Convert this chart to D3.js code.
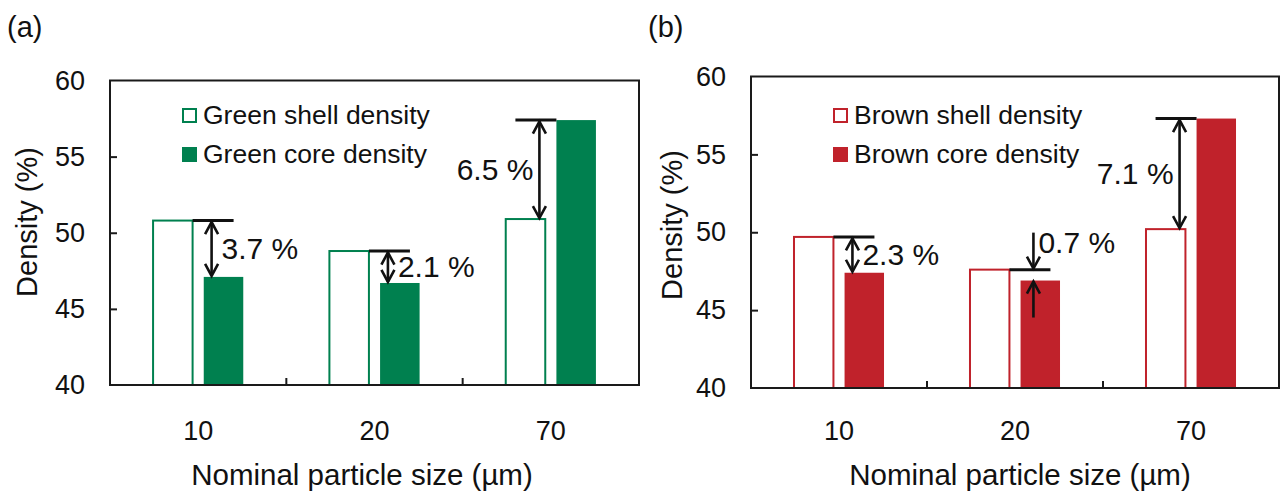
<!DOCTYPE html>
<html>
<head>
<meta charset="utf-8">
<script src="https://cdn.jsdelivr.net/npm/d3@7"></script>
<style>
  html, body { margin: 0; padding: 0; background: #fff; }
  svg { display: block; font-family: "Liberation Sans", Arial, Helvetica, sans-serif; }
</style>
</head>
<body>
<svg id="fig" width="1280" height="493"></svg>
<script>
// Nominal particle sizes (µm)
const categories = ["10", "20", "70"];
// Green (unsintered) granules: shell vs core density (%)
const greenShell = [50.8, 48.8, 50.9];
const greenCore  = [47.1, 46.7, 57.4];
// Brown granules: shell vs core density (%)
const brownShell = [49.7, 47.6, 50.2];
const brownCore  = [47.4, 46.9, 57.3];
const yTicks = [40, 45, 50, 55, 60];
const xTitle = "Nominal particle size (µm)";
const yTitle = "Density (%)";

const panels = [
  { tag: "(a)", shell: greenShell, core: greenCore, color: "#00804f",
    names: ["Green shell density", "Green core density"],
    box: { left: 110, right: 639, top: 80.5, bottom: 385 },
    tagX: 7, legendDx: 72, titleX: 362, yTitleX: 37, yTitleY: 222 },
  { tag: "(b)", shell: brownShell, core: brownCore, color: "#c0222b",
    names: ["Brown shell density", "Brown core density"],
    box: { left: 751, right: 1279, top: 76.5, bottom: 388 },
    tagX: 648, legendDx: 82, titleX: 1020, yTitleX: 682, yTitleY: 225 }
];

const svg = d3.select("#fig");
const ink = "#111";

function arrowHead(g, x, yTip, dir) {
  // dir = -1: head points up, +1: head points down
  const len = 12, half = 6.5;
  g.append("path")
    .attr("d", `M${x - half},${yTip - dir * len} L${x},${yTip} L${x + half},${yTip - dir * len}`)
    .attr("fill", "none").attr("stroke", ink).attr("stroke-width", 2.6)
    .attr("stroke-linejoin", "miter");
}

panels.forEach(p => {
  const g = svg.append("g");
  const b = p.box;
  const y = d3.scaleLinear().domain([40, 60]).range([b.bottom, b.top]);
  const x = d3.scaleBand().domain(categories).range([b.left, b.right]);
  const sub = d3.scaleBand().domain(["shell", "core"]).range([0, x.bandwidth()])
    .paddingInner(0.22).paddingOuter(0.85);

  // bars
  categories.forEach((c, i) => {
    const sv = p.shell[i], cv = p.core[i];
    g.append("rect")
      .attr("x", x(c) + sub("shell")).attr("y", y(sv))
      .attr("width", sub.bandwidth()).attr("height", y(40) - y(sv))
      .attr("fill", "#fff").attr("stroke", p.color).attr("stroke-width", 2);
    g.append("rect")
      .attr("x", x(c) + sub("core")).attr("y", y(cv))
      .attr("width", sub.bandwidth()).attr("height", y(40) - y(cv))
      .attr("fill", p.color);
  });

  // frame
  g.append("rect")
    .attr("x", b.left).attr("y", b.top)
    .attr("width", b.right - b.left).attr("height", b.bottom - b.top)
    .attr("fill", "none").attr("stroke", "#1a1a1a").attr("stroke-width", 2);

  // y tick labels
  const yAxis = g.append("g").attr("transform", `translate(${b.left},0)`)
    .call(d3.axisLeft(y).tickValues(yTicks).tickSize(0).tickPadding(25));
  yAxis.select(".domain").remove();
  yAxis.selectAll("text").attr("font-size", 27).attr("fill", ink)
    .attr("font-family", "Liberation Sans, Arial, sans-serif");

  // inward y ticks
  const yIn = g.append("g").attr("transform", `translate(${b.left},0)`)
    .call(d3.axisRight(y).tickValues(yTicks.slice(1, -1)).tickSize(7).tickFormat(""));
  yIn.select(".domain").remove();
  yIn.selectAll("line").attr("stroke", "#1a1a1a").attr("stroke-width", 2);

  // x tick labels
  const fsX = 27;
  const xAxis = g.append("g").attr("transform", `translate(0,${b.bottom})`)
    .call(d3.axisBottom(x).tickSize(0).tickPadding(440 - b.bottom - 0.71 * fsX));
  xAxis.select(".domain").remove();
  xAxis.selectAll("text").attr("font-size", fsX).attr("fill", ink)
    .attr("font-family", "Liberation Sans, Arial, sans-serif");

  // inward x ticks at group boundaries
  categories.slice(1).forEach(c => {
    g.append("line")
      .attr("x1", x(c)).attr("x2", x(c))
      .attr("y1", b.bottom).attr("y2", b.bottom - 7)
      .attr("stroke", "#1a1a1a").attr("stroke-width", 2);
  });

  // axis titles
  g.append("text").attr("x", p.titleX).attr("y", 485)
    .attr("text-anchor", "middle").attr("font-size", 29.5)
    .attr("fill", ink).text(xTitle);
  g.append("text")
    .attr("transform", `translate(${p.yTitleX},${p.yTitleY}) rotate(-90)`)
    .attr("text-anchor", "middle").attr("font-size", 29)
    .attr("fill", ink).text(yTitle);

  // panel tag
  g.append("text").attr("x", p.tagX).attr("y", 37)
    .attr("font-size", 29).attr("fill", ink).text(p.tag);

  // legend
  const lx = b.left + p.legendDx;
  const rows = [{ y: 108, filled: false }, { y: 147, filled: true }];
  rows.forEach((r, i) => {
    g.append("rect")
      .attr("x", lx + (r.filled ? 0 : 1)).attr("y", r.y + (r.filled ? 0 : 1))
      .attr("width", r.filled ? 15 : 13).attr("height", r.filled ? 15 : 13)
      .attr("fill", r.filled ? p.color : "#fff")
      .attr("stroke", r.filled ? "none" : p.color).attr("stroke-width", 2);
    g.append("text").attr("x", lx + 21).attr("y", r.y + 15.5)
      .attr("font-size", 26.5).attr("fill", ink)
      .text(p.names[i]);
  });

  // shell/core difference annotations
  categories.forEach((c, i) => {
    const sv = p.shell[i], cv = p.core[i];
    const label = Math.abs(sv - cv).toFixed(1) + " %";
    const ys = y(sv), yc = y(cv);
    const shellRight = x(c) + sub("shell") + sub.bandwidth();
    const coreLeft = x(c) + sub("core");
    const a = g.append("g");
    const fsA = 30;
    if (cv > sv) {
      // core above shell: reference bar at core top, reaching left over the shell bar
      const x1 = coreLeft, x0 = x1 - 41, ax = x1 - 17;
      a.append("line").attr("x1", x0).attr("x2", x1).attr("y1", yc).attr("y2", yc)
        .attr("stroke", ink).attr("stroke-width", 3);
      a.append("line").attr("x1", ax).attr("x2", ax).attr("y1", yc + 1).attr("y2", ys - 1)
        .attr("stroke", ink).attr("stroke-width", 2.6);
      arrowHead(a, ax, yc + 1.5, -1);
      arrowHead(a, ax, ys - 1, 1);
      a.append("text").attr("x", ax - 6).attr("y", (yc + ys) / 2 + 10)
        .attr("text-anchor", "end").attr("font-size", fsA)
        .attr("fill", ink).text(label);
    } else if (sv - cv >= 1) {
      // shell above core: reference bar at shell top, reaching right over the core bar
      const x0 = shellRight, x1 = x0 + 41, ax = x0 + 19;
      a.append("line").attr("x1", x0).attr("x2", x1).attr("y1", ys).attr("y2", ys)
        .attr("stroke", ink).attr("stroke-width", 3);
      a.append("line").attr("x1", ax).attr("x2", ax).attr("y1", ys + 1).attr("y2", yc - 1)
        .attr("stroke", ink).attr("stroke-width", 2.6);
      arrowHead(a, ax, ys + 1.5, -1);
      arrowHead(a, ax, yc - 1, 1);
      a.append("text").attr("x", ax + 10).attr("y", (ys + yc) / 2 + 10)
        .attr("font-size", fsA)
        .attr("fill", ink).text(label);
    } else {
      // gap too small for a double arrow: two arrows pointing inward
      const x0 = shellRight, x1 = x0 + 41, ax = x0 + 24;
      a.append("line").attr("x1", x0).attr("x2", x1).attr("y1", ys).attr("y2", ys)
        .attr("stroke", ink).attr("stroke-width", 3);
      a.append("line").attr("x1", ax).attr("x2", ax).attr("y1", ys - 37).attr("y2", ys - 1)
        .attr("stroke", ink).attr("stroke-width", 2.6);
      arrowHead(a, ax, ys - 1, 1);
      a.append("line").attr("x1", ax).attr("x2", ax).attr("y1", yc + 37).attr("y2", yc + 1)
        .attr("stroke", ink).attr("stroke-width", 2.6);
      arrowHead(a, ax, yc + 1, -1);
      a.append("text").attr("x", ax + 5).attr("y", ys - 17)
        .attr("font-size", fsA)
        .attr("fill", ink).text(label);
    }
  });
});
</script>
</body>
</html>
